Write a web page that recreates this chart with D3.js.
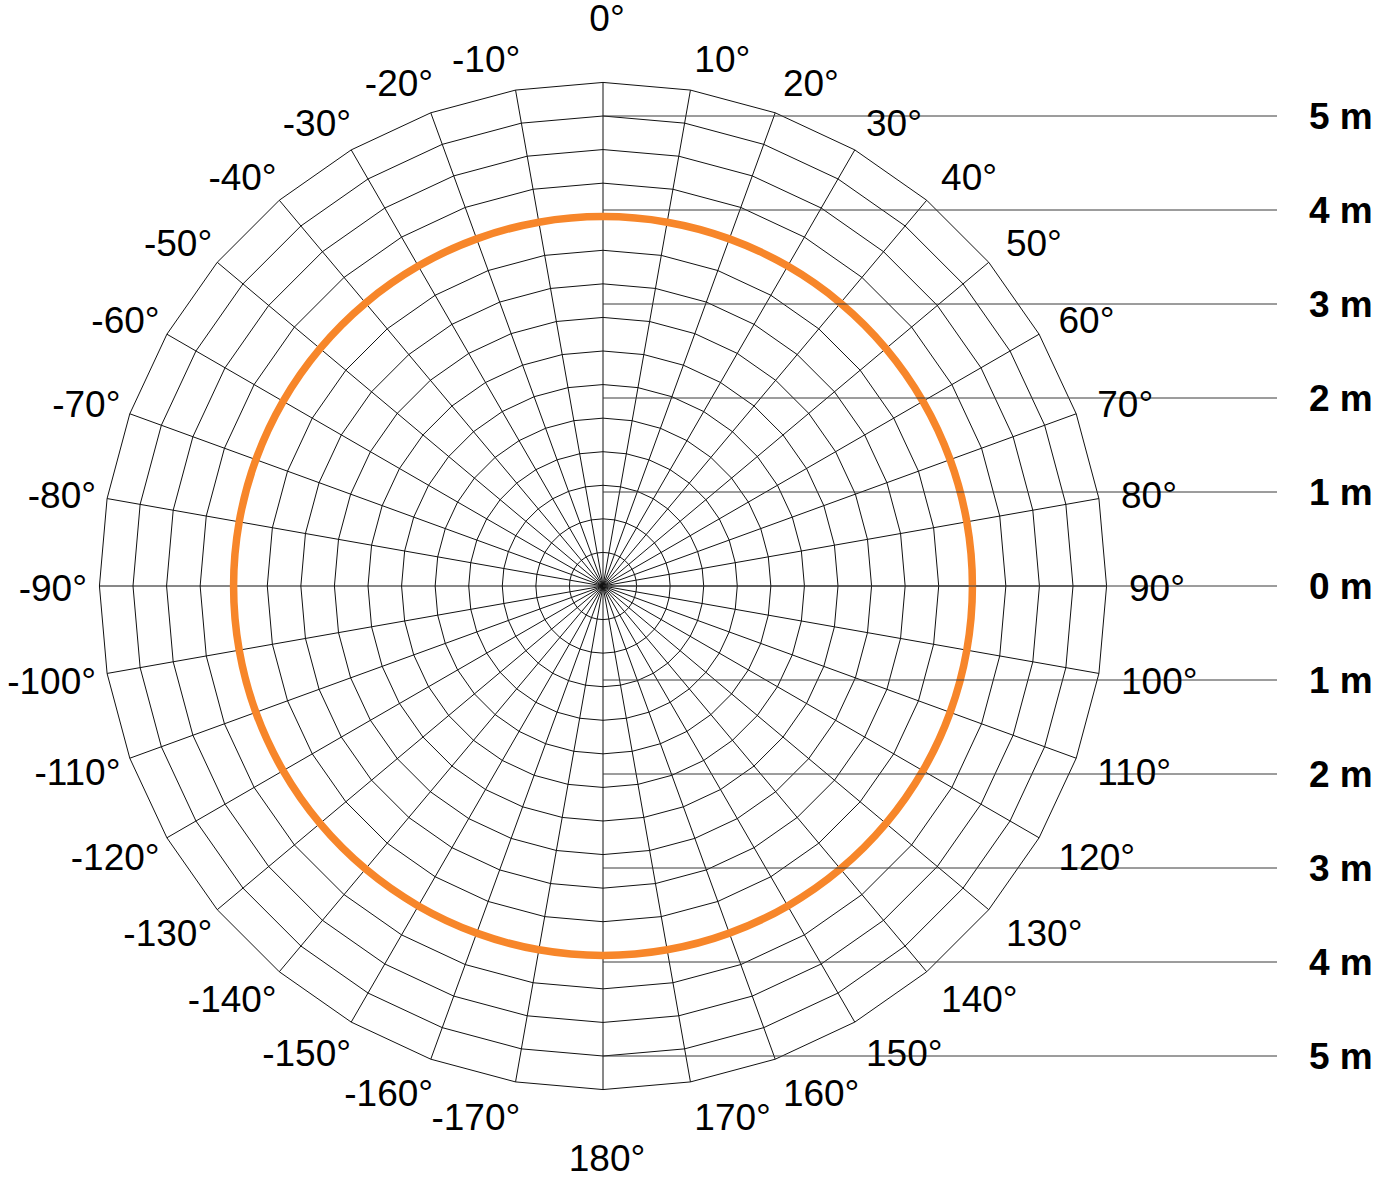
<!DOCTYPE html>
<html>
<head>
<meta charset="utf-8">
<script src="https://cdn.jsdelivr.net/npm/d3@7"></script>
<style>
  html, body { margin: 0; padding: 0; background: #ffffff; }
  svg { display: block; }
  text { font-family: "Liberation Sans", Arial, Helvetica, sans-serif; }
</style>
</head>
<body>
<svg id="chart" width="1384" height="1181"></svg>
<script>
// ---- data ----
const angleLabels = [0, 10, 20, 30, 40, 50, 60, 70, 80, 90, 100, 110, 120, 130, 140, 150, 160, 170, 180,
  -170, -160, -150, -140, -130, -120, -110, -100, -90, -80, -70, -60, -50, -40, -30, -20, -10];
const meterTicks = [5, 4, 3, 2, 1, 0, -1, -2, -3, -4, -5];
const meterLabels = ["5 m", "4 m", "3 m", "2 m", "1 m", "0 m", "1 m", "2 m", "3 m", "4 m", "5 m"];
const seriesAngles = [0, 10, 20, 30, 40, 50, 60, 70, 80, 90, 100, 110, 120, 130, 140, 150, 160, 170,
  180, 190, 200, 210, 220, 230, 240, 250, 260, 270, 280, 290, 300, 310, 320, 330, 340, 350];
const seriesDistance = [3.93, 3.93, 3.93, 3.93, 3.93, 3.93, 3.93, 3.93, 3.93, 3.93, 3.93, 3.93,
  3.93, 3.93, 3.93, 3.93, 3.93, 3.93, 3.93, 3.93, 3.93, 3.93, 3.93, 3.93,
  3.93, 3.93, 3.93, 3.93, 3.93, 3.93, 3.93, 3.93, 3.93, 3.93, 3.93, 3.93];
const gridRingCount = 15;
const gridRingStep = 5 / 14;   // metres per grid ring
const gridAngleStep = 10;      // degrees per spoke

// ---- layout ----
const cx = 603, cy = 586;
const fontSize = 37;
const capHalf = Math.round(0.716 * fontSize / 2);
const svg = d3.select("#chart");
const r = d3.scaleLinear().domain([0, 5]).range([0, 470]);
const yM = d3.scaleLinear().domain([-5, 5]).range([cy + r(5), cy - r(5)]);
const rad = d => d * Math.PI / 180;

const g = svg.append("g").attr("transform", `translate(${cx},${cy})`);

// grid rings (36-gons)
const spokeAngles = d3.range(0, 360, gridAngleStep);
const ringLine = d3.lineRadial().angle(d => rad(d.a)).radius(d => r(d.m)).curve(d3.curveLinearClosed);
const rings = d3.range(1, gridRingCount + 1).map(k => spokeAngles.map(a => ({ a, m: k * gridRingStep })));
g.append("g").selectAll("path").data(rings).join("path")
  .attr("d", ringLine)
  .attr("fill", "none")
  .attr("stroke", "#111")
  .attr("stroke-width", 1);

// spokes
const outerM = gridRingCount * gridRingStep;
g.append("g").selectAll("line").data(spokeAngles).join("line")
  .attr("x1", 0).attr("y1", 0)
  .attr("x2", a => r(outerM) * Math.sin(rad(a)))
  .attr("y2", a => -r(outerM) * Math.cos(rad(a)))
  .attr("stroke", "#111")
  .attr("stroke-width", 1);

// metre reference lines
svg.append("g").selectAll("line").data(meterTicks).join("line")
  .attr("x1", cx).attr("x2", 1277)
  .attr("y1", d => yM(d)).attr("y2", d => yM(d))
  .attr("stroke", "#3a3a3a")
  .attr("stroke-width", 1);

svg.append("g").selectAll("text").data(meterTicks).join("text")
  .attr("x", 1309)
  .attr("y", d => yM(d) + capHalf)
  .attr("font-size", fontSize)
  .attr("font-weight", "bold")
  .attr("fill", "#000")
  .text((d, i) => meterLabels[i]);

// series (orange)
const seriesData = seriesAngles.map((a, i) => ({ a, m: seriesDistance[i] }));
const seriesLine = d3.lineRadial().angle(d => rad(d.a)).radius(d => r(d.m)).curve(d3.curveCardinalClosed);
g.append("path").datum(seriesData)
  .attr("d", seriesLine)
  .attr("fill", "none")
  .attr("stroke", "#f7862a")
  .attr("stroke-width", 7.5);

// angle labels
function labelPos(a) {
  const s = Math.sin(rad(a)), c = Math.cos(rad(a));
  if (a === 0 || a === 180) {
    return { x: cx + 4, y: cy + 2 - 570 * c + capHalf, anchor: "middle" };
  }
  if (a > 0) {
    return { x: cx + 526 * s, y: cy + 2 - 537 * c + capHalf, anchor: "start" };
  }
  return { x: cx + 516 * s + 7 * Math.abs(c), y: cy + 2 - 537 * c + capHalf, anchor: "end" };
}
svg.append("g").selectAll("text").data(angleLabels).join("text")
  .each(function (a) {
    const p = labelPos(a);
    d3.select(this).attr("x", p.x).attr("y", p.y).attr("text-anchor", p.anchor);
  })
  .attr("font-size", fontSize)
  .attr("fill", "#000")
  .text(a => `${a}°`);
</script>
</body>
</html>
